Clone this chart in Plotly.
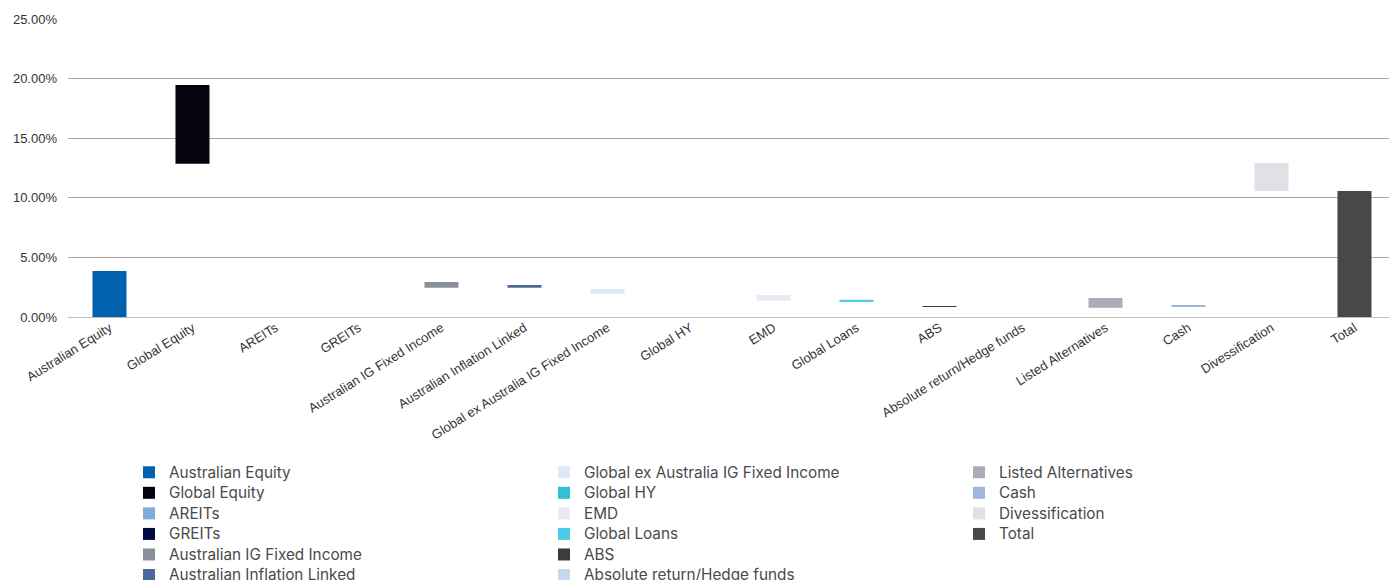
import plotly.graph_objects as go

categories = ["Australian Equity", "Global Equity", "AREITs", "GREITs",
              "Australian IG Fixed Income", "Australian Inflation Linked",
              "Global ex Australia IG Fixed Income", "Global HY", "EMD",
              "Global Loans", "ABS", "Absolute return/Hedge funds",
              "Listed Alternatives", "Cash", "Divessification", "Total"]

# floating bars: bottom and top of each bar, in percent
bar_bottom = [0.00, 12.86, 0.00, 0.00, 2.46, 2.46, 1.96, 0.00, 1.37, 1.34,
              0.87, 0.00, 0.78, 0.87, 10.57, 0.00]
bar_top = [3.86, 19.46, 0.00, 0.00, 2.94, 2.68, 2.35, 0.00, 1.85, 1.45,
           0.92, 0.00, 1.59, 1.00, 12.92, 10.57]

colors = ["#0061ad", "#04040e", "#7badde", "#000b45", "#8a9099", "#4a6a9d",
          "#dee9f7", "#2ec1d8", "#ebe9f3", "#4fcbea", "#3b3b40", "#c6d9ef",
          "#a9adb6", "#9db8dc", "#e0e1e6", "#4a4846"]

legend_group = ["legend"] * 6 + ["legend2"] * 6 + ["legend3"] * 4

fig = go.Figure()
for i, cat in enumerate(categories):
    fig.add_trace(go.Bar(
        x=[cat], y=[bar_top[i] - bar_bottom[i]], base=[bar_bottom[i]],
        name='<span style="font-size:15.3px">' + cat + '</span>',
        marker=dict(color=colors[i], line=dict(width=0)),
        width=0.41, legend=legend_group[i],
        hovertemplate=cat + "<extra></extra>",
    ))

legend_font = dict(family="Inter", size=13.5, color="#4a4a4a")
leg_common = dict(orientation="v", xanchor="left", yanchor="top",
                  font=legend_font, bgcolor="rgba(0,0,0,0)",
                  itemclick=False, itemdoubleclick=False, tracegroupgap=0)
L = 68
W = 1389 - L
H = 580 - 19 - 263
ytop = -(457 - 317) / H
fig.update_layout(
    width=1389, height=580,
    margin=dict(l=68, r=0, t=19, b=263, autoexpand=False),
    plot_bgcolor="white", paper_bgcolor="white",
    barmode="overlay",
    showlegend=True,
    legend=dict(x=(129 - L) / W, y=ytop, **leg_common),
    legend2=dict(x=(544 - L) / W, y=ytop, **leg_common),
    legend3=dict(x=(959 - L) / W, y=ytop, **leg_common),
    xaxis=dict(
        type="category", range=[-0.5, 15.416], showgrid=False,
        showline=False, ticks="", tickangle=-32,
        tickfont=dict(family="Liberation Sans, Arial", size=13, color="#333333"),
    ),
    yaxis=dict(
        range=[0, 25], dtick=5, tick0=0, tickformat=".2f", ticksuffix="%",
        showgrid=True, gridcolor="#a6a6a6", gridwidth=1,
        zeroline=True, zerolinecolor="#bdbdbd", zerolinewidth=1,
        showline=False, ticks="", ticklabelstandoff=10,
        tickfont=dict(family="Liberation Sans, Arial", size=13, color="#333333"),
    ),
)

fig.write_html("out.html")
